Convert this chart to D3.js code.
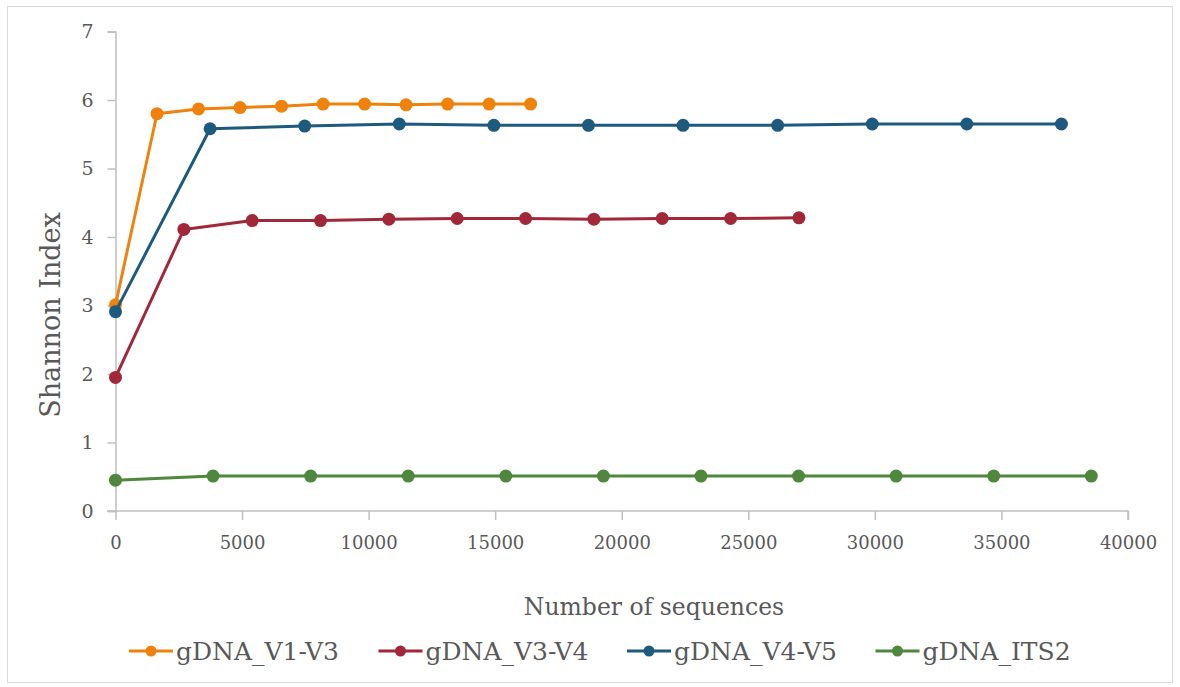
<!DOCTYPE html>
<html>
<head>
<meta charset="utf-8">
<script src="https://cdn.jsdelivr.net/npm/d3@7"></script>
<style>
  html, body { margin: 0; padding: 0; background: #fff; }
  svg { display: block; }
  text { font-family: "DejaVu Serif", "Liberation Serif", serif; fill: #595959; }
</style>
</head>
<body>
<svg id="chart" width="1180" height="687"></svg>
<script>
// ---- data ----
const seriesNames = ["gDNA_V1-V3", "gDNA_V3-V4", "gDNA_V4-V5", "gDNA_ITS2"];
const seriesColors = ["#EF820D", "#A02838", "#1E5A7E", "#4E873D"];

const v1v3X = [0, 1640, 3280, 4920, 6560, 8200, 9840, 11480, 13120, 14760, 16400];
const v1v3Y = [3.01, 5.80, 5.87, 5.89, 5.91, 5.94, 5.94, 5.93, 5.94, 5.94, 5.94];

const v3v4X = [0, 2700, 5400, 8100, 10800, 13500, 16200, 18900, 21600, 24300, 27000];
const v3v4Y = [1.95, 4.11, 4.24, 4.24, 4.26, 4.27, 4.27, 4.26, 4.27, 4.27, 4.28];

const v4v5X = [0, 3737, 7474, 11211, 14948, 18685, 22422, 26159, 29896, 33633, 37370];
const v4v5Y = [2.91, 5.58, 5.62, 5.65, 5.63, 5.63, 5.63, 5.63, 5.65, 5.65, 5.65];

const its2X = [0, 3855, 7710, 11565, 15420, 19275, 23130, 26985, 30840, 34695, 38550];
const its2Y = [0.45, 0.51, 0.51, 0.51, 0.51, 0.51, 0.51, 0.51, 0.51, 0.51, 0.51];

const xTicks = [0, 5000, 10000, 15000, 20000, 25000, 30000, 35000, 40000];
const yTicks = [0, 1, 2, 3, 4, 5, 6, 7];

const xTitle = "Number of sequences";
const yTitle = "Shannon Index";

// ---- build ----
const series = [
  { name: seriesNames[0], color: seriesColors[0], pts: v1v3X.map((x, i) => [x, v1v3Y[i]]) },
  { name: seriesNames[1], color: seriesColors[1], pts: v3v4X.map((x, i) => [x, v3v4Y[i]]) },
  { name: seriesNames[2], color: seriesColors[2], pts: v4v5X.map((x, i) => [x, v4v5Y[i]]) },
  { name: seriesNames[3], color: seriesColors[3], pts: its2X.map((x, i) => [x, its2Y[i]]) }
];

const svg = d3.select("#chart");

// outer border
svg.append("rect").attr("x", 7.5).attr("y", 6.5).attr("width", 1165).attr("height", 676)
  .attr("fill", "none").attr("stroke", "#D9D9D9").attr("stroke-width", 1);

const x = d3.scaleLinear().domain([0, 40000]).range([115.5, 1128]);
const y = d3.scaleLinear().domain([0, 7]).range([511, 31.5]);

// y axis
const yAxis = svg.append("g").attr("transform", "translate(115.5,0)")
  .call(d3.axisLeft(y).tickValues(yTicks).tickSize(8).tickPadding(14).tickFormat(d3.format("d")));
yAxis.select(".domain").attr("stroke", "#BFBFBF").attr("stroke-width", 1.5);
yAxis.selectAll(".tick line").attr("stroke", "#BFBFBF").attr("stroke-width", 1.5);
yAxis.selectAll(".tick text").style("font-size", "19px").attr("fill", "#595959")
  .style("font-family", "'DejaVu Serif', serif");

// x axis
const xAxis = svg.append("g").attr("transform", "translate(0,511)")
  .call(d3.axisBottom(x).tickValues(xTicks).tickSize(9).tickPadding(16).tickFormat(d3.format("d")));
xAxis.select(".domain").attr("stroke", "#BFBFBF").attr("stroke-width", 1.5)
  .attr("d", "M107,0H1128V9");
xAxis.selectAll(".tick line").attr("stroke", "#BFBFBF").attr("stroke-width", 1.5);
xAxis.selectAll(".tick text").style("font-size", "18px").attr("fill", "#595959")
  .style("font-family", "'DejaVu Serif', serif");

// titles
svg.append("text").attr("x", 654).attr("y", 615).attr("text-anchor", "middle")
  .style("font-size", "23.5px").text(xTitle);
svg.append("text").attr("transform", "translate(60,315) rotate(-90)").attr("text-anchor", "middle")
  .style("font-size", "27px").text(yTitle);

// lines
const line = d3.line().x(d => x(d[0])).y(d => y(d[1]));
const g = svg.append("g");
series.forEach(s => {
  g.append("path").datum(s.pts).attr("d", line).attr("fill", "none")
    .attr("stroke", s.color).attr("stroke-width", 3).attr("stroke-linejoin", "round");
  g.selectAll(null).data(s.pts).enter().append("circle")
    .attr("cx", d => x(d[0])).attr("cy", d => y(d[1])).attr("r", 6.5).attr("fill", s.color);
});

// legend
const legendX = [129, 378.5, 627, 875.5];
const legend = svg.append("g");
series.forEach((s, i) => {
  const lx = legendX[i];
  legend.append("line").attr("x1", lx).attr("x2", lx + 44).attr("y1", 651).attr("y2", 651)
    .attr("stroke", s.color).attr("stroke-width", 3);
  legend.append("circle").attr("cx", lx + 22).attr("cy", 651).attr("r", 5.5).attr("fill", s.color);
  legend.append("text").attr("x", lx + 47).attr("y", 660).style("font-size", "25px").text(s.name);
});
</script>
</body>
</html>
